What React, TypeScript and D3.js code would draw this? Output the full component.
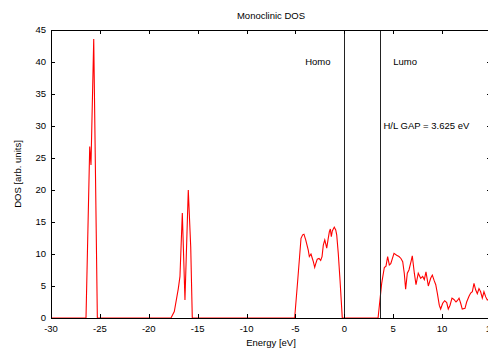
import React from "react";
import * as d3 from "d3";

const energy: number[] = [
  -30, -26.42, -26.04, -25.91, -25.63, -25.43, -25.26,
  -17.73, -17.39, -16.98, -16.81, -16.57, -16.3, -15.96, -15.71, -15.55,
  -5.08, -4.75, -4.43, -4.26, -4.13, -3.95, -3.69, -3.58, -3.41, -3.27, -3.17, -3.03, -2.9, -2.77,
  -2.59, -2.42, -2.28, -2.15, -2.0, -1.9, -1.8, -1.67, -1.53, -1.43, -1.33, -1.23, -1.03, -0.88,
  -0.78, -0.62, -0.44, -0.21,
  3.45, 3.82, 4.09, 4.26, 4.43, 4.6, 4.75, 5.08, 5.35, 5.59, 5.79, 5.97, 6.13, 6.27, 6.44, 6.61,
  6.82, 6.95, 7.16, 7.33, 7.56, 7.81, 8.01, 8.18, 8.35, 8.59, 8.83, 9.0, 9.2, 9.35, 9.51, 9.71,
  9.85, 10.06, 10.26, 10.47, 10.63, 10.81, 11.01, 11.21, 11.42, 11.55, 11.73, 11.9, 12.06, 12.34,
  12.51, 12.75, 12.92, 13.09, 13.26, 13.43, 13.6, 13.77, 13.94, 14.11, 14.28, 14.46, 14.62, 14.85, 15.0,
];

const dos: number[] = [
  0, 0, 26.8, 23.9, 43.6, 20, 0,
  0, 1.0, 4.6, 6.5, 16.4, 2.8, 20.0, 11.1, 0,
  0, 6.2, 12.45, 13.0, 13.1, 12.2, 10.6, 9.6, 10.0, 9.3, 8.8, 7.9, 8.6, 9.2,
  9.3, 9.0, 9.6, 11.4, 12.2, 11.6, 10.9, 12.2, 13.5, 13.9, 12.7, 13.6, 14.2, 13.75,
  13.0, 10.1, 5.9, 0,
  0, 5.4, 7.9, 8.1, 9.6, 8.3, 8.5, 10.1, 9.8, 9.6, 9.3, 8.8, 7.0, 4.5, 7.0, 7.5,
  8.8, 9.7, 7.0, 5.2, 7.0, 6.2, 6.5, 6.0, 7.2, 5.0, 6.2, 6.7, 5.8, 5.2, 3.9, 2.0,
  1.4, 2.3, 2.7, 2.4, 1.4, 2.0, 3.1, 2.9, 2.5, 2.7, 3.1, 2.3, 1.4, 1.5,
  2.5, 3.4, 3.9, 4.1, 5.4, 4.4, 3.8, 4.6, 4.1, 3.1, 4.1, 3.3, 2.8, 3.0, 3.2,
];

const xTicks: number[] = [-30, -25, -20, -15, -10, -5, 0, 5, 10, 15];
const yTicks: number[] = [0, 5, 10, 15, 20, 25, 30, 35, 40, 45];
const homoEnergy = 0;
const lumoEnergy = 3.625;

export default function App() {
  const W = 488, H = 350;
  const left = 51, right = 491, top = 30, bottom = 318;
  const x = d3.scaleLinear().domain([-30, 15]).range([left, right]);
  const y = d3.scaleLinear().domain([0, 45]).range([bottom, top]);
  const pts: [number, number][] = energy.map((e, i) => [e, dos[i]]);
  const line = d3.line<[number, number]>().x(d => x(d[0])).y(d => y(d[1]));
  const font = "'Liberation Sans', Arial, Helvetica, sans-serif";
  const tl = 4;
  return (
    <svg width={W} height={H} style={{ position: "absolute", left: 0, top: 0, background: "#fff" }} fontFamily={font}>
      <defs>
        <clipPath id="plotclip">
          <rect x={left} y={top} width={right - left} height={bottom - top} />
        </clipPath>
      </defs>
      <rect x={0} y={0} width={W} height={H} fill="#fff" />
      <text x={(left + right) / 2} y={19} textAnchor="middle" fontSize={9.5} fill="#000">Monoclinic DOS</text>
      <path d={line(pts) || ""} fill="none" stroke="#ff0000" strokeWidth={1.1} clipPath="url(#plotclip)" />
      {[homoEnergy, lumoEnergy].map((e, i) => (
        <line key={i} x1={Math.round(x(e)) + 0.5} x2={Math.round(x(e)) + 0.5} y1={top} y2={bottom} stroke="#222" strokeWidth={1} />
      ))}
      <rect x={left + 0.5} y={top + 0.5} width={right - left} height={bottom - top} fill="none" stroke="#000" strokeWidth={1} />
      {xTicks.map(t => (
        <g key={"x" + t}>
          <line x1={Math.round(x(t)) + 0.5} x2={Math.round(x(t)) + 0.5} y1={bottom} y2={bottom - tl} stroke="#000" />
          <line x1={Math.round(x(t)) + 0.5} x2={Math.round(x(t)) + 0.5} y1={top} y2={top + tl} stroke="#000" />
          <text x={x(t)} y={332} textAnchor="middle" fontSize={9.5} fill="#000">{t}</text>
        </g>
      ))}
      {yTicks.map(t => (
        <g key={"y" + t}>
          <line x1={left} x2={left + tl} y1={Math.round(y(t)) + 0.5} y2={Math.round(y(t)) + 0.5} stroke="#000" />
          <line x1={right - tl} x2={right} y1={Math.round(y(t)) + 0.5} y2={Math.round(y(t)) + 0.5} stroke="#000" />
          <text x={46} y={y(t)} dy="0.35em" textAnchor="end" fontSize={9.5} fill="#000">{t}</text>
        </g>
      ))}
      <text x={x(-4)} y={y(40)} dy="0.35em" fontSize={9.5} fill="#000">Homo</text>
      <text x={x(5)} y={y(40)} dy="0.35em" fontSize={9.5} fill="#000">Lumo</text>
      <text x={x(4)} y={y(30)} dy="0.35em" fontSize={9.5} fill="#000">H/L GAP = 3.625 eV</text>
      <text x={(left + right) / 2} y={346} textAnchor="middle" fontSize={9.5} fill="#000">Energy [eV]</text>
      <text transform={`translate(18,${(top + bottom) / 2}) rotate(-90)`} textAnchor="middle" dy="0.35em" fontSize={9.5} fill="#000">DOS [arb. units]</text>
    </svg>
  );
}
